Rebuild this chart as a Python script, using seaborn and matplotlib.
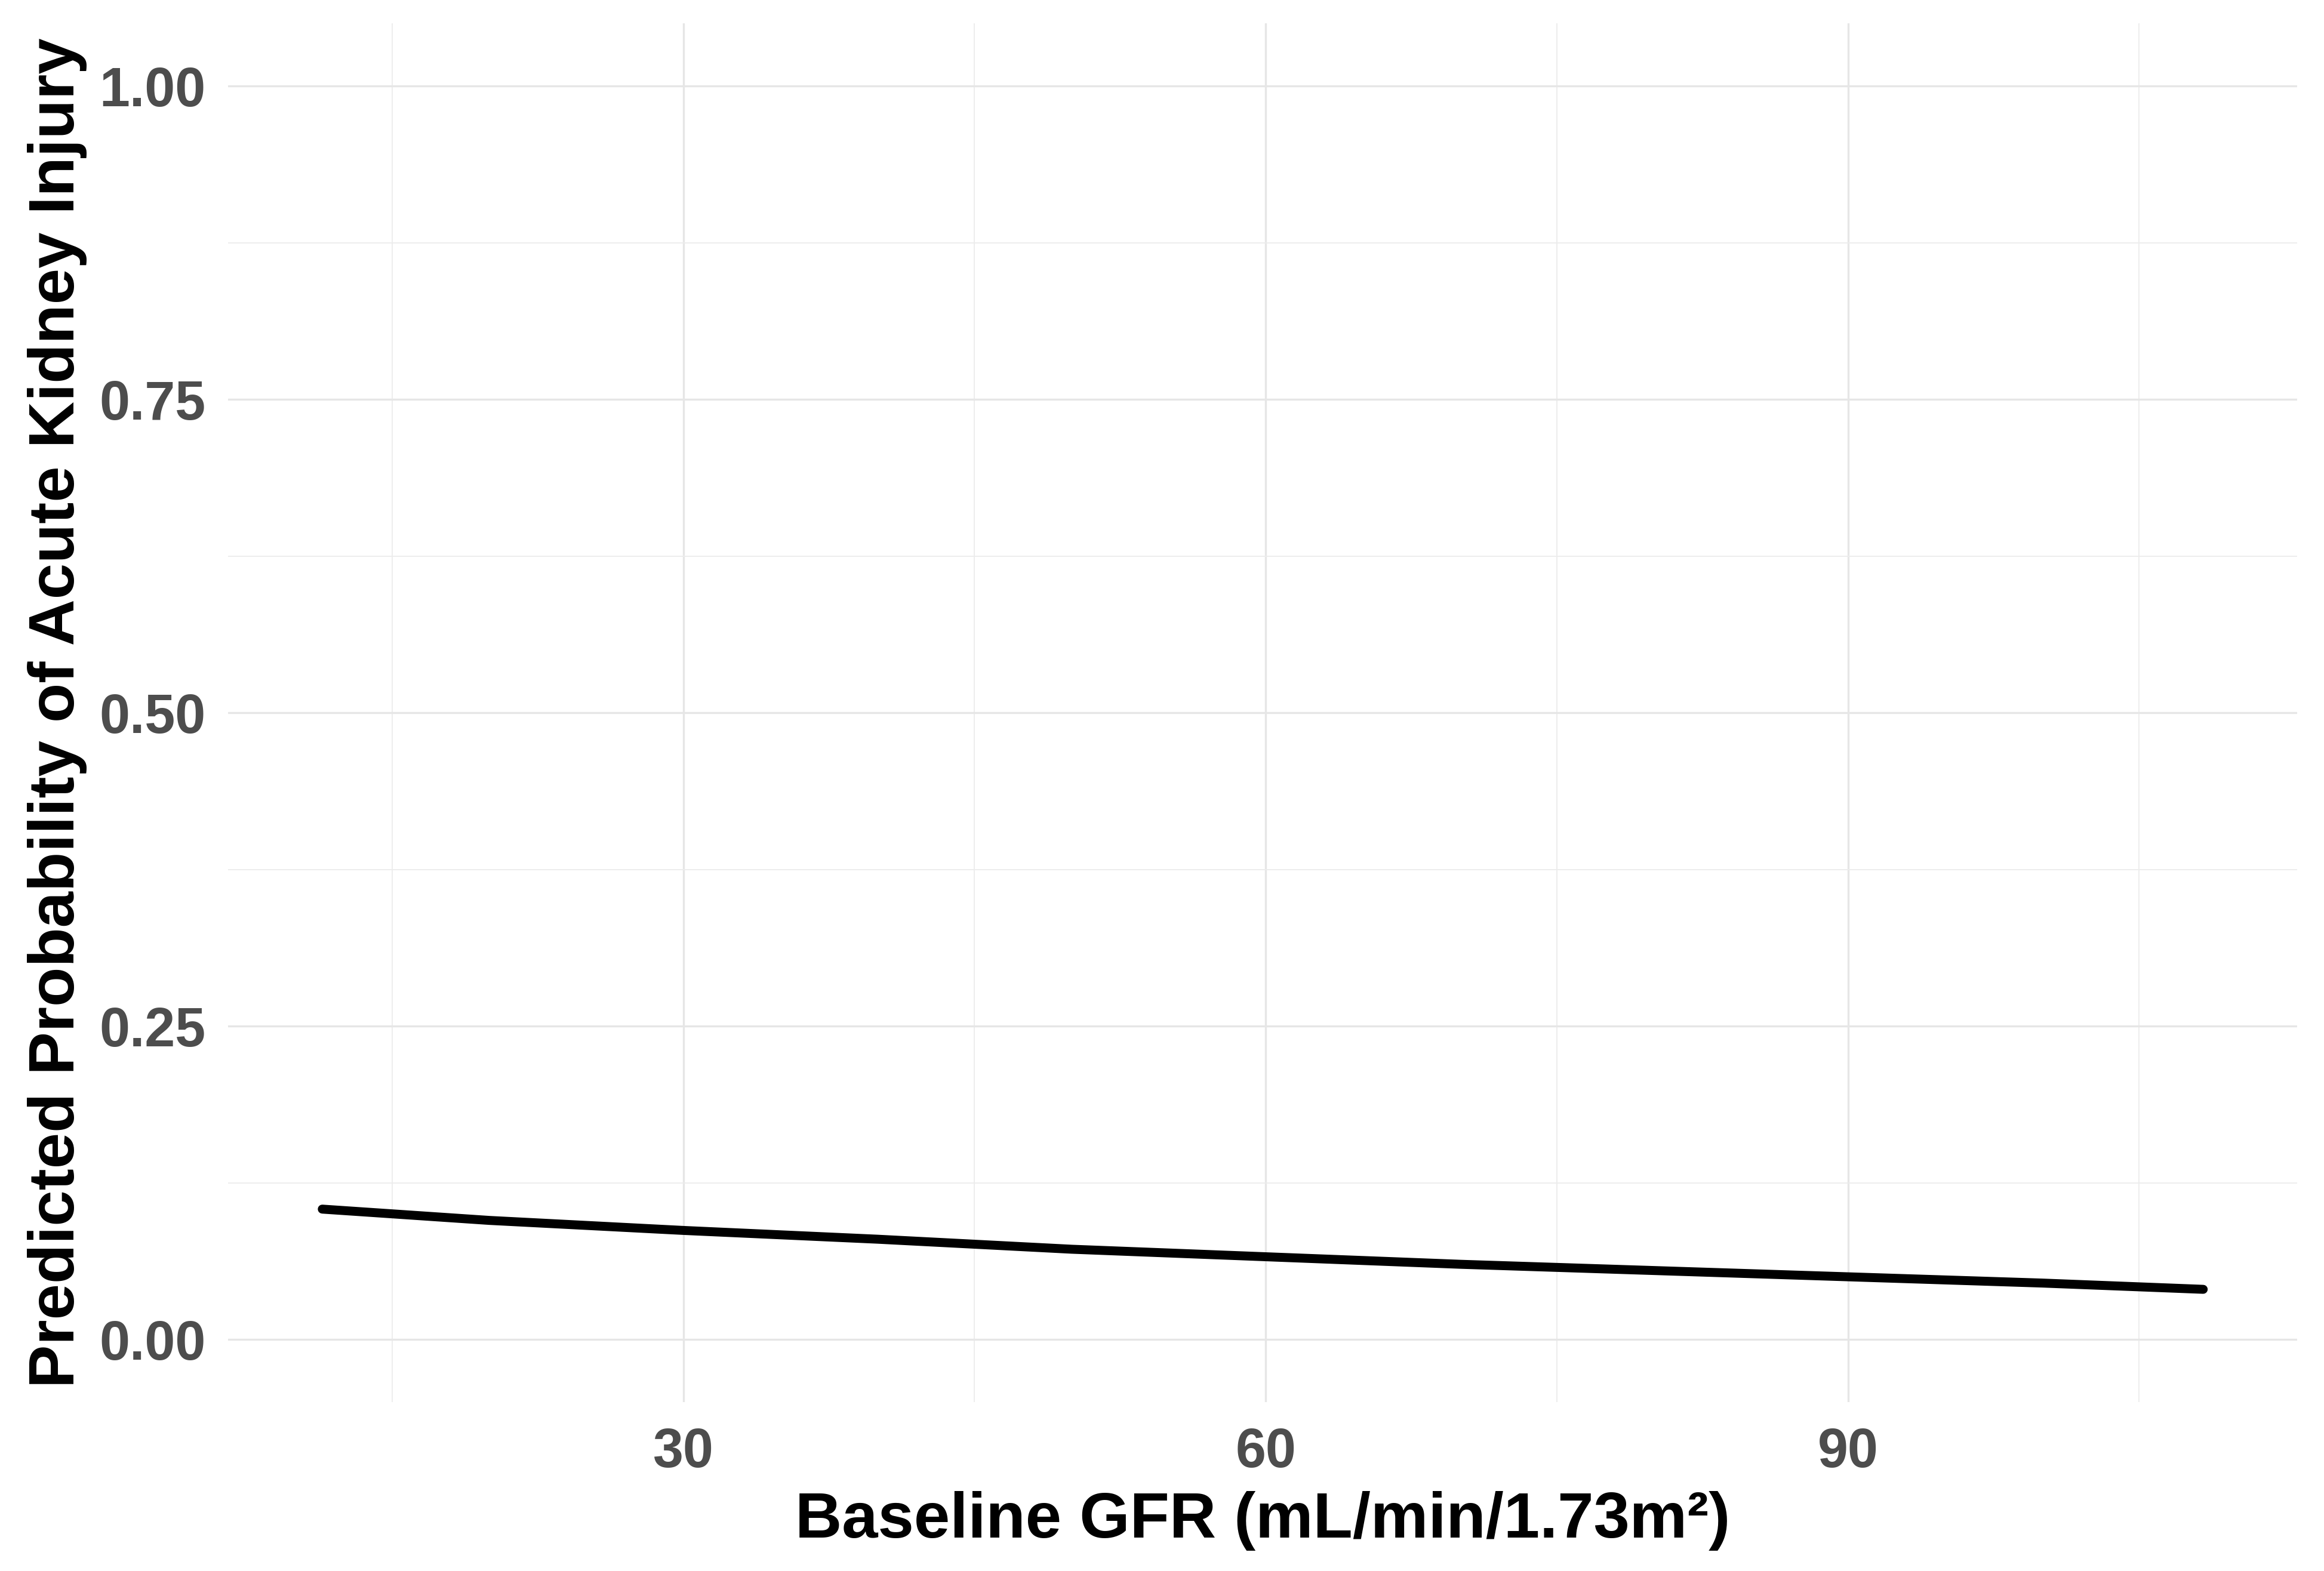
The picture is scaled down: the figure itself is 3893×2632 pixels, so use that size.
import numpy as np
import pandas as pd
import seaborn as sns
import matplotlib.pyplot as plt
from matplotlib.ticker import MultipleLocator

# values
gfr = [11.4, 20, 30, 40, 50, 60, 70, 80, 90, 100, 108.3]
prob = [0.104, 0.095, 0.087, 0.080, 0.072, 0.066, 0.060, 0.055, 0.050, 0.045, 0.040]

x_ticks = [30, 60, 90]
y_ticks = [0.00, 0.25, 0.50, 0.75, 1.00]
y_tick_labels = ["0.00", "0.25", "0.50", "0.75", "1.00"]

df = pd.DataFrame({"gfr": gfr, "prob": prob})

sns.set_theme(style="whitegrid")
plt.rcParams["font.family"] = ["Liberation Sans", "DejaVu Sans"]

fig = plt.figure(figsize=(3893 / 300, 2632 / 300), dpi=300)
ax = fig.add_axes([0.0982, 0.1075, 0.8903, 0.8775])

sns.lineplot(data=df, x="gfr", y="prob", color="black", linewidth=3.6, ax=ax)

# ggplot-like 5% expansion
span = max(gfr) - min(gfr)
ax.set_xlim(min(gfr) - 0.05 * span, max(gfr) + 0.05 * span)
ax.set_ylim(-0.05, 1.05)

ax.set_xticks(x_ticks)
ax.set_yticks(y_ticks)
ax.set_yticklabels(y_tick_labels)
ax.xaxis.set_minor_locator(MultipleLocator(30, offset=15))
ax.yaxis.set_minor_locator(MultipleLocator(0.25, offset=0.125))

ax.grid(which="major", color="#E6E6E6", linewidth=0.8)
ax.grid(which="minor", color="#ECECEC", linewidth=0.45)
ax.set_facecolor("white")
for s in ax.spines.values():
    s.set_visible(False)

ax.tick_params(axis="both", which="both", length=0, labelsize=22, labelcolor="#4D4D4D")
ax.tick_params(axis="x", pad=10)
ax.tick_params(axis="y", pad=9)
for lbl in ax.get_xticklabels() + ax.get_yticklabels():
    lbl.set_fontweight("bold")

ax.set_xlabel("Baseline GFR (mL/min/1.73m²)", fontsize=26, fontweight="bold", color="black", labelpad=5)
ax.set_ylabel("Predicted Probability of Acute Kidney Injury", fontsize=26, fontweight="bold", color="black", labelpad=5)

fig.savefig("out.png", dpi=300, facecolor="white")
